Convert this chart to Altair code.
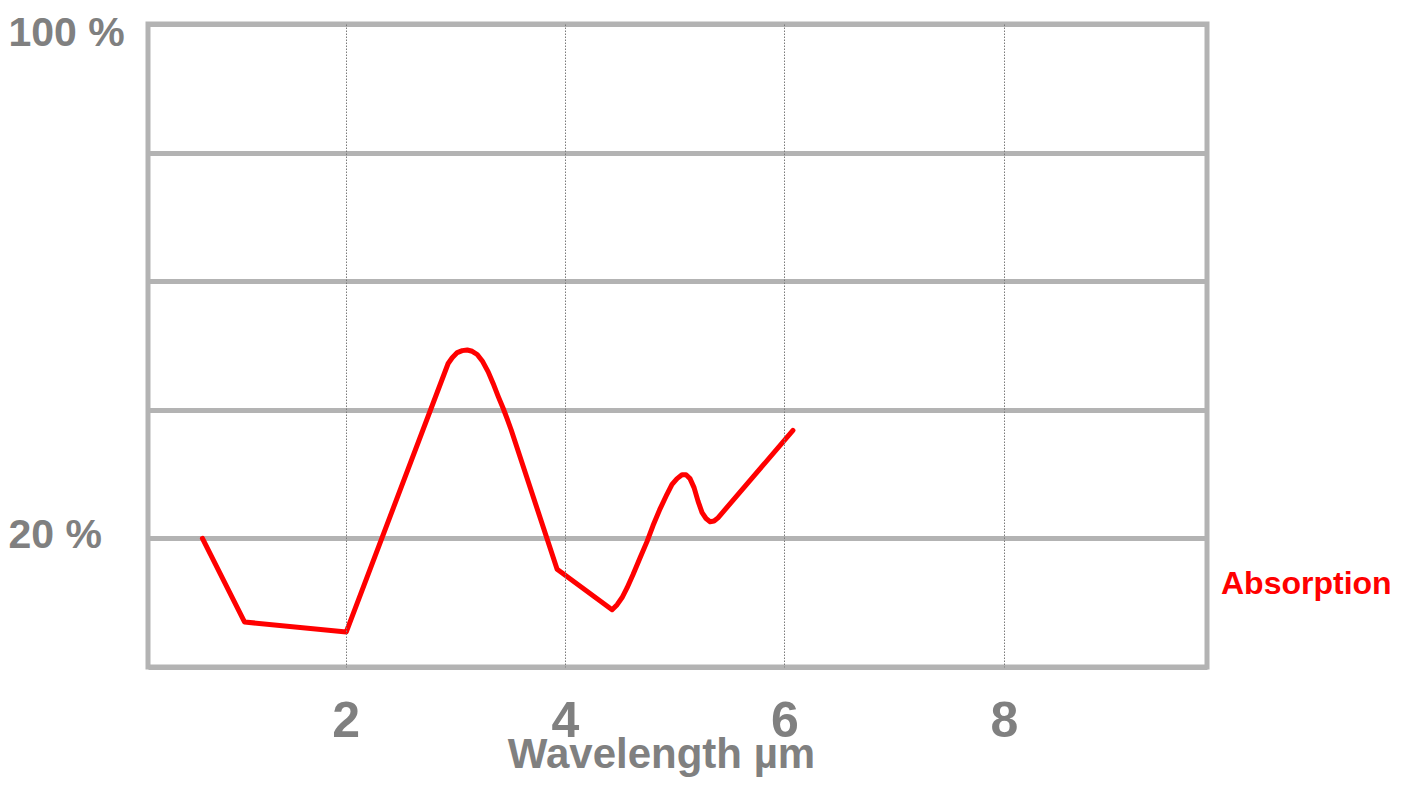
import altair as alt
import pandas as pd

# ---- data ----
series_name = ["Absorption"]
wavelength = [0.696, 1.079, 2.007, 2.935, 2.972, 3.018, 3.063, 3.109, 3.154, 3.200,
              3.246, 3.300, 3.345, 3.391, 3.437, 3.473, 3.509, 3.928, 4.429, 4.475,
              4.520, 4.565, 4.620, 4.684, 4.747, 4.802, 4.866, 4.930, 4.975, 5.021,
              5.066, 5.103, 5.139, 5.176, 5.212, 5.249, 5.285, 5.322, 5.358, 5.394,
              6.077]
absorption = [20.0, 7.0, 5.45, 47.2, 48.1, 48.9, 49.2, 49.3, 49.1, 48.6,
              47.6, 45.9, 44.1, 42.1, 40.2, 38.6, 36.9, 15.2, 8.9, 9.7,
              10.8, 12.3, 14.4, 17.0, 19.5, 22.0, 24.6, 26.9, 28.4, 29.3,
              29.9, 29.9, 29.3, 27.9, 25.8, 24.0, 23.1, 22.6, 22.7, 23.2,
              36.8]
x_ticks = [2, 4, 6, 8]
y_grid = [0, 20, 40, 60, 80, 100]
y_labelled = [20, 100]
x_title = "Wavelength µm"

FONT = "Liberation Sans"
GRAY = "#808080"
GRID = "#b3b3b3"

df = pd.DataFrame({
    "wavelength": wavelength,
    "absorption": absorption,
    "idx": list(range(len(wavelength))),
    "series": series_name * len(wavelength),
})

label_expr = " || ".join(f"datum.value == {v}" for v in y_labelled)
label_expr = f"({label_expr}) ? datum.value + ' %' : ''"

chart = alt.Chart(df).mark_line(strokeWidth=5, strokeCap="round", strokeJoin="round").encode(
    x=alt.X(
        "wavelength:Q",
        scale=alt.Scale(domain=[0.2, 9.85], nice=False, zero=False),
        axis=alt.Axis(
            values=x_ticks, title=x_title, grid=True, gridDash=[1.5, 1.5],
            gridColor="#7a7a7a", gridWidth=1, domain=False, ticks=False, tickSize=0,
            labelFontSize=50, labelFont=FONT, labelFontWeight="bold", labelColor=GRAY,
            labelPadding=29, labelFlush=False,
            titleFontSize=42, titleFont=FONT, titleFontWeight="bold", titleColor=GRAY,
            titleX=513, titleY=100, titleBaseline="alphabetic", zindex=1,
        ),
    ),
    y=alt.Y(
        "absorption:Q",
        scale=alt.Scale(domain=[0, 100], nice=False),
        axis=alt.Axis(
            values=y_grid, labelExpr=label_expr, title=None, grid=True,
            gridColor=GRID, gridWidth=5, domain=False, ticks=False, tickSize=0,
            labelFontSize=41, labelFont=FONT, labelFontWeight="bold", labelColor=GRAY,
            labelAlign="left", labelPadding=140,
            labelOffset={"condition": {"test": "datum.value == 100", "value": 9}, "value": -3},
        ),
    ),
    color=alt.Color(
        "series:N",
        scale=alt.Scale(domain=series_name, range=["#ff0000"]),
        legend=alt.Legend(
            title=None, orient="none", legendX=1041, legendY=544,
            symbolSize=0, symbolOpacity=0, symbolStrokeWidth=0, labelOffset=0,
            labelLimit=0,
            labelFontSize=32, labelFont=FONT, labelFontWeight="bold", labelColor="#ff0000",
        ),
    ),
    order="idx:Q",
).properties(
    width=1059, height=643,
    autosize=alt.AutoSizeParams(type="none"),
    padding={"left": 140, "top": 16, "right": 188, "bottom": 110},
).configure_view(
    stroke=GRID, strokeWidth=5,
)

chart.save("out.html", embed_options={"renderer": "svg", "actions": False})
